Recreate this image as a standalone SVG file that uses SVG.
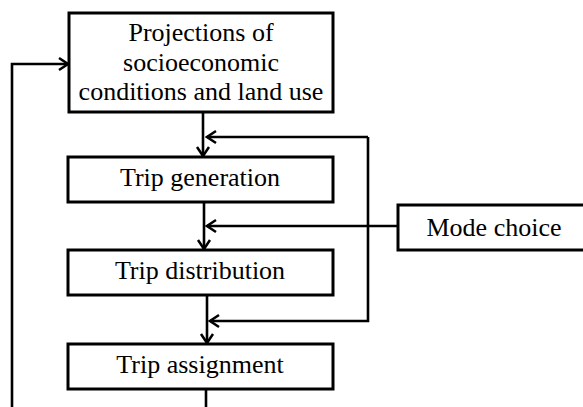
<svg xmlns="http://www.w3.org/2000/svg" width="583" height="407" viewBox="0 0 583 407">
<style>
.box{fill:#fff;stroke:#000;stroke-width:3}
.lbl{font-family:"Liberation Serif","Times New Roman",serif;font-size:26px;fill:#000;text-anchor:middle}
.con{fill:none;stroke:#000;stroke-width:2.6}
</style>
<defs>
<marker id="ah" viewBox="-12 -8 14 16" refX="0" refY="0" markerWidth="14" markerHeight="16" markerUnits="userSpaceOnUse" orient="auto">
<path d="M-9,-6 L0,0 L-9,6" fill="none" stroke="#000" stroke-width="2.5"/>
</marker>
</defs>
<rect width="583" height="407" fill="#fff"/>
<g id="connectors">
<path class="con" d="M203,113 V156" marker-end="url(#ah)"/>
<path class="con" d="M368,137 H207" marker-end="url(#ah)"/>
<path class="con" d="M368,137 V321 H210" marker-end="url(#ah)"/>
<path class="con" d="M204,202 V249" marker-end="url(#ah)"/>
<path class="con" d="M398,226 H207" marker-end="url(#ah)"/>
<path class="con" d="M207,296 V343" marker-end="url(#ah)"/>
<path class="con" d="M206,389 V407"/>
<path class="con" d="M12,407 V64 H68" marker-end="url(#ah)"/>
</g>
<g id="projections">
<rect class="box" x="69" y="13" width="264" height="99"/>
<text class="lbl" x="201" y="41">Projections of</text>
<text class="lbl" x="201" y="71">socioeconomic</text>
<text class="lbl" x="201" y="100">conditions and land use</text>
</g>
<g id="trip-generation">
<rect class="box" x="68" y="157" width="265" height="45"/>
<text class="lbl" x="200" y="186">Trip generation</text>
</g>
<g id="mode-choice">
<rect class="box" x="398" y="205" width="195" height="45"/>
<text class="lbl" x="494" y="236">Mode choice</text>
</g>
<g id="trip-distribution">
<rect class="box" x="68" y="250" width="265" height="45"/>
<text class="lbl" x="200" y="279">Trip distribution</text>
</g>
<g id="trip-assignment">
<rect class="box" x="68" y="344" width="265" height="45"/>
<text class="lbl" x="200" y="373">Trip assignment</text>
</g>
</svg>
